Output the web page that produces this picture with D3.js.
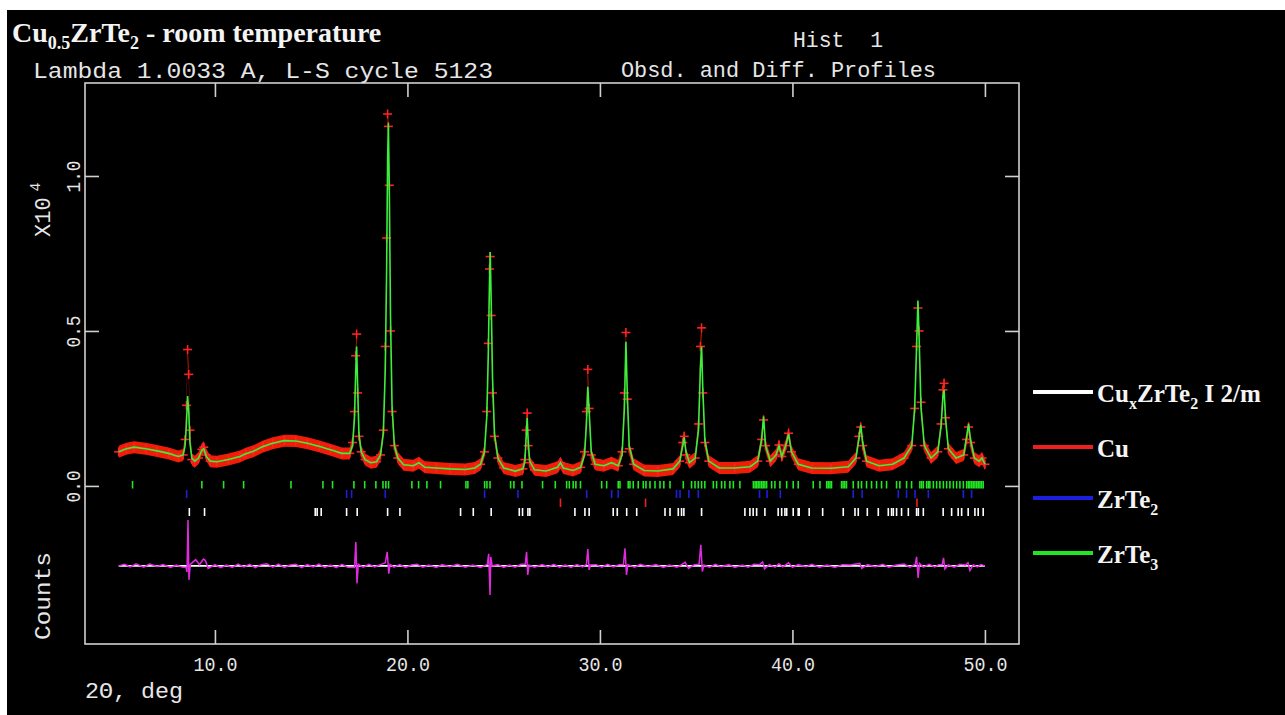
<!DOCTYPE html>
<html><head><meta charset="utf-8">
<script src="https://cdn.jsdelivr.net/npm/d3@7"></script>
<style>html,body{margin:0;padding:0;background:#fff;} svg{display:block}</style>
</head><body>
<script>
// ---------- DATA ----------
// 2-theta positions of the profile points (deg)
const twoTheta = [
  5.0,5.4,5.8,6.4,7.0,7.6,8.1,
  8.35,8.45,8.52,8.58,8.64,8.70,8.80,
  8.95,9.15,9.32,9.42,9.55,9.75,10.1,10.7,11.3,11.6,12.0,12.5,13.0,13.6,14.2,14.8,15.4,16.0,16.6,17.0,
  17.15,17.25,17.31,17.36,17.41,17.48,17.6,17.8,18.1,18.4,18.6,
  18.75,18.85,18.92,18.97,19.01,19.06,19.12,19.2,19.32,19.5,
  19.8,20.3,20.6,20.9,21.5,22.2,23.0,23.5,23.8,
  24.0,24.12,24.2,24.26,24.3,24.35,24.42,24.52,24.7,25.0,25.6,26.0,
  26.1,26.17,26.22,26.27,26.35,26.6,27.2,27.8,27.95,28.1,28.6,29.0,
  29.2,29.3,29.37,29.44,29.55,29.75,30.2,30.6,30.95,
  31.15,31.27,31.35,31.42,31.52,31.75,32.3,33.0,33.8,
  34.15,34.3,34.38,34.47,34.65,34.95,35.12,35.22,35.28,35.34,35.45,35.65,36.2,37.0,37.8,
  38.2,38.4,38.5,38.6,38.85,39.15,39.3,39.45,39.65,39.8,39.95,40.3,41.0,42.0,42.9,
  43.3,43.45,43.55,43.65,43.85,44.5,45.2,45.8,
  46.2,46.35,46.45,46.52,46.58,46.68,46.85,47.2,
  47.55,47.72,47.82,47.88,47.95,48.1,48.5,48.9,49.05,49.15,49.25,49.45,49.7,49.85,50.0
];
// calculated profile (counts x 10^4)
const calcCounts = [
  0.11,0.12,0.125,0.12,0.113,0.105,0.095,
  0.10,0.13,0.20,0.29,0.24,0.14,0.09,
  0.08,0.09,0.115,0.12,0.095,0.08,0.078,0.085,0.095,0.104,0.112,0.127,0.138,0.146,0.145,0.138,0.128,0.117,0.105,0.105,
  0.13,0.22,0.36,0.45,0.33,0.17,0.11,0.085,0.075,0.078,0.10,
  0.17,0.38,0.70,1.05,1.17,0.95,0.55,0.26,0.13,0.09,
  0.068,0.065,0.075,0.06,0.058,0.055,0.053,0.058,0.07,
  0.11,0.22,0.42,0.65,0.755,0.60,0.35,0.17,0.09,0.058,0.048,0.055,
  0.08,0.16,0.22,0.15,0.08,0.052,0.048,0.06,0.075,0.058,0.05,0.06,
  0.10,0.20,0.32,0.24,0.11,0.07,0.065,0.075,0.065,
  0.10,0.25,0.465,0.30,0.13,0.07,0.05,0.048,0.055,
  0.08,0.13,0.157,0.11,0.075,0.09,0.18,0.38,0.45,0.32,0.15,0.08,0.058,0.058,0.062,
  0.08,0.15,0.224,0.13,0.08,0.10,0.129,0.095,0.13,0.168,0.11,0.07,0.058,0.057,0.062,
  0.09,0.15,0.197,0.14,0.08,0.065,0.07,0.09,
  0.13,0.25,0.45,0.598,0.48,0.25,0.13,0.09,
  0.11,0.19,0.29,0.31,0.22,0.12,0.09,0.10,0.16,0.20,0.15,0.09,0.08,0.09,0.07
];
// observed profile (counts x 10^4)
const obsCounts = [
  0.11,0.12,0.125,0.12,0.113,0.105,0.095,
  0.10,0.15,0.26,0.44,0.36,0.18,0.085,
  0.078,0.09,0.118,0.125,0.10,0.08,0.078,0.085,0.095,0.104,0.112,0.127,0.138,0.146,0.145,0.138,0.128,0.117,0.105,0.105,
  0.14,0.24,0.42,0.49,0.30,0.16,0.11,0.085,0.075,0.078,0.10,
  0.18,0.45,0.80,1.20,1.16,0.97,0.50,0.24,0.13,0.09,
  0.068,0.065,0.075,0.06,0.058,0.055,0.053,0.058,0.07,
  0.11,0.24,0.46,0.70,0.74,0.55,0.30,0.16,0.09,0.058,0.048,0.055,
  0.085,0.18,0.235,0.13,0.075,0.052,0.048,0.06,0.075,0.058,0.05,0.06,
  0.11,0.24,0.376,0.25,0.10,0.07,0.065,0.075,0.065,
  0.11,0.30,0.495,0.28,0.12,0.07,0.05,0.048,0.055,
  0.08,0.14,0.16,0.10,0.075,0.09,0.20,0.45,0.51,0.30,0.14,0.08,0.058,0.058,0.062,
  0.08,0.15,0.213,0.13,0.08,0.10,0.132,0.095,0.13,0.17,0.11,0.07,0.058,0.057,0.062,
  0.09,0.16,0.19,0.13,0.08,0.065,0.07,0.09,
  0.13,0.25,0.45,0.574,0.50,0.27,0.13,0.09,
  0.11,0.20,0.31,0.331,0.22,0.12,0.09,0.10,0.15,0.19,0.14,0.09,0.08,0.09,0.07
];
// difference curve (obs - calc), counts x 10^4, drawn around an offset baseline
const diffTheta = [
  5.0,5.3,5.6,5.9,6.3,6.6,7.0,7.3,7.7,8.0,8.3,8.5,8.55,8.6,8.65,8.72,8.85,9.0,9.2,9.4,9.5,9.65,
  10.0,10.3,10.6,10.9,11.2,11.5,11.8,12.1,12.4,12.7,13.0,13.3,13.6,13.9,14.2,14.5,14.8,15.1,15.4,15.7,16.0,16.3,16.6,16.9,
  17.25,17.32,17.38,17.45,17.7,18.0,18.3,18.6,18.85,18.95,19.03,19.1,19.3,19.6,19.9,20.2,20.5,20.8,21.1,21.5,21.8,22.2,22.6,23.0,23.4,23.8,
  24.15,24.22,24.29,24.33,24.4,24.7,25.0,25.3,25.6,25.9,26.12,26.19,26.25,26.32,26.6,27.0,27.3,27.6,27.9,28.2,28.5,28.8,29.1,
  29.3,29.37,29.44,29.5,29.8,30.1,30.4,30.7,31.0,31.22,31.3,31.38,31.45,31.8,32.1,32.5,32.9,33.3,33.6,34.0,34.3,34.42,34.6,34.9,
  35.15,35.24,35.32,35.4,35.7,36.0,36.3,36.7,37.0,37.4,37.7,38.0,38.3,38.45,38.55,38.8,39.1,39.3,39.5,39.8,40.0,40.3,40.7,41.0,41.4,41.8,42.2,42.6,43.0,43.5,43.6,43.9,44.3,44.7,45.0,45.4,45.8,46.1,
  46.38,46.45,46.53,46.6,46.8,47.1,47.4,47.6,47.78,47.85,47.92,48.1,48.4,48.7,49.0,49.12,49.22,49.4,49.6,49.8,50.0
];
const diffCounts = [
  0.0,0.005,-0.003,0.007,-0.004,0.006,-0.002,0.004,-0.005,0.003,-0.004,-0.005,-0.02,0.148,-0.045,0.005,0.012,0.02,0.004,0.022,0.018,-0.008,
  0.004,-0.006,0.003,-0.005,0.006,-0.003,0.005,-0.006,0.004,0.007,-0.004,0.006,-0.005,0.003,0.005,-0.006,0.004,-0.003,0.006,-0.005,0.003,-0.006,0.005,-0.004,
  -0.005,0.077,-0.057,0.005,-0.004,0.005,-0.003,0.004,0.01,0.045,-0.025,0.005,-0.004,0.004,-0.005,0.003,0.005,-0.004,0.003,-0.005,0.004,-0.003,0.005,-0.004,0.003,-0.005,
  0.005,0.039,-0.094,0.029,0.0,0.004,-0.005,0.003,-0.004,0.005,0.005,0.045,-0.029,0.003,-0.004,0.004,-0.003,0.005,-0.004,0.003,-0.005,0.004,-0.003,
  0.005,0.054,-0.013,0.003,0.004,-0.004,0.005,-0.003,0.004,0.004,0.057,-0.029,0.004,-0.004,0.005,-0.003,0.004,-0.005,0.003,-0.004,0.006,0.012,-0.008,0.004,
  0.005,0.068,-0.018,0.003,-0.004,0.005,-0.003,0.004,-0.005,0.003,-0.004,0.005,0.004,0.013,-0.01,0.004,-0.004,0.007,-0.003,0.01,-0.005,0.004,-0.003,0.005,-0.004,0.003,-0.005,0.004,0.003,0.008,-0.008,0.004,-0.003,0.005,-0.004,0.003,0.006,-0.004,
  0.005,0.029,-0.039,0.008,-0.004,0.005,-0.003,0.004,0.004,0.026,-0.01,0.003,-0.004,0.005,0.003,0.01,-0.015,0.004,-0.003,0.004,0.0
];
const diffBaseline = -0.258;

// reflection positions (2-theta) per phase
const reflZrTe3 = [5.72,9.32,10.45,11.49,13.95,15.61,16.11,17.22,17.78,18.36,18.73,18.88,19.02,20.23,20.58,21.01,21.72,23.04,23.14,24.01,24.13,24.29,25.36,25.53,25.95,27.02,27.68,28.27,28.41,28.61,28.75,28.99,30.09,30.35,30.95,31.04,31.47,31.56,31.73,31.99,32.25,32.39,32.60,32.86,33.12,33.32,33.64,34.33,34.76,34.94,35.11,35.28,35.45,35.89,36.06,36.32,36.49,36.75,36.93,37.27,37.97,38.06,38.14,38.22,38.31,38.40,38.48,38.57,38.66,38.92,39.09,39.35,39.70,40.04,40.30,41.08,41.43,41.78,41.86,41.95,42.03,42.55,42.63,42.72,42.81,43.16,43.42,43.59,43.85,44.11,44.37,44.63,44.89,45.41,45.58,45.93,46.19,46.62,46.71,46.80,46.97,47.06,47.14,47.32,47.49,47.66,47.84,48.01,48.18,48.36,48.53,48.70,48.88,49.05,49.14,49.22,49.31,49.39,49.48,49.57,49.65,49.74,49.82,49.91];
const reflZrTe2 = [8.53,16.84,17.10,18.85,24.01,25.74,29.31,30.61,30.95,33.98,34.16,34.62,35.11,38.29,38.68,39.37,43.16,43.62,45.50,45.93,46.37,47.06,48.88,49.31];
const reflCu = [27.95,32.37,46.47];
const reflCuxZrTe2 = [8.67,9.46,15.21,15.31,15.52,16.84,17.39,18.97,19.61,22.76,23.42,24.35,25.81,25.98,26.26,26.36,28.70,29.22,29.44,30.69,30.90,31.39,31.91,33.38,33.64,34.07,34.24,34.36,35.28,37.53,37.79,37.96,38.14,38.57,39.26,39.44,39.61,39.70,40.04,40.30,40.35,40.87,41.57,42.64,43.25,43.42,43.89,44.46,44.98,45.15,45.24,45.41,45.67,46.02,46.45,46.54,46.80,47.83,48.27,48.61,48.79,49.13,49.48,49.65,49.91];

const xTickValues = [10, 20, 30, 40, 50];
const xTickLabels = ["10.0", "20.0", "30.0", "40.0", "50.0"];
const yTickValues = [0, 0.5, 1.0];
const yTickLabels = ["0.0", "0.5", "1.0"];

const legendNames = ["CuxZrTe2 I 2/m", "Cu", "ZrTe2", "ZrTe3"];
const phaseColors = ["#ffffff", "#ee1f1f", "#1e1ee0", "#22e622"];

// ---------- DRAWING ----------
const W = 1285, H = 715;
const svg = d3.select("body").append("svg").attr("width", W).attr("height", H);
svg.append("rect").attr("width", W).attr("height", H).attr("fill", "#fff");
svg.append("rect").attr("x", 7).attr("y", 10).attr("width", W - 7).attr("height", H - 10).attr("fill", "#000");

const frame = {left: 85, right: 1019, top: 83, bottom: 644};
const x = d3.scaleLinear().domain([3.25, 51.77]).range([frame.left, frame.right]);
const y = d3.scaleLinear().domain([-0.51, 1.30]).range([frame.bottom, frame.top]);

const mono = "'Liberation Mono','DejaVu Sans Mono',monospace";
const serif = "'Liberation Serif','DejaVu Serif',serif";
const fg = "#e6e6e6";

// frame
svg.append("rect").attr("x", frame.left).attr("y", frame.top)
  .attr("width", frame.right - frame.left).attr("height", frame.bottom - frame.top)
  .attr("fill", "none").attr("stroke", "#d0d0d0").attr("stroke-width", 1.6);

function styleAxis(g) {
  g.select(".domain").remove();
  g.selectAll(".tick line").attr("stroke", "#d0d0d0").attr("stroke-width", 1.6);
}
// bottom axis with labels
const gx = svg.append("g").attr("transform", `translate(0,${frame.bottom})`)
  .call(d3.axisBottom(x).tickValues(xTickValues).tickSizeInner(-14).tickSizeOuter(0)
    .tickFormat((d, i) => xTickLabels[i]));
styleAxis(gx);
gx.selectAll(".tick text").attr("y", 27).attr("dy", 0)
  .attr("fill", fg).attr("font-family", mono).attr("font-size", 21)
  .attr("textLength", 44).attr("lengthAdjust", "spacingAndGlyphs");
// top axis, ticks only
const gt = svg.append("g").attr("transform", `translate(0,${frame.top})`)
  .call(d3.axisTop(x).tickValues(xTickValues).tickSizeInner(-14).tickSizeOuter(0).tickFormat(""));
styleAxis(gt);
// left axis with rotated labels
const gy = svg.append("g").attr("transform", `translate(${frame.left},0)`)
  .call(d3.axisLeft(y).tickValues(yTickValues).tickSizeInner(-14).tickSizeOuter(0)
    .tickFormat((d, i) => yTickLabels[i]));
styleAxis(gy);
gy.selectAll(".tick text").attr("x", 0).attr("dy", 0)
  .attr("transform", "translate(-5,0) rotate(-90)")
  .attr("text-anchor", "middle")
  .attr("fill", fg).attr("font-family", mono).attr("font-size", 21)
  .attr("textLength", 32).attr("lengthAdjust", "spacingAndGlyphs");
// right axis ticks only
const gr = svg.append("g").attr("transform", `translate(${frame.right},0)`)
  .call(d3.axisRight(y).tickValues(yTickValues).tickSizeInner(-14).tickSizeOuter(0).tickFormat(""));
styleAxis(gr);

// titles
const t1 = svg.append("text").attr("x", 12).attr("y", 42).attr("fill", "#f4f4f4")
  .attr("font-family", serif).attr("font-weight", "bold").attr("font-size", 28);
t1.append("tspan").text("Cu");
t1.append("tspan").attr("dy", 7).attr("font-size", 18).text("0.5");
t1.append("tspan").attr("dy", -7).text("ZrTe");
t1.append("tspan").attr("dy", 7).attr("font-size", 18).text("2");
t1.append("tspan").attr("dy", -7).text(" - room temperature");

function monoText(str, x0, y0, len) {
  svg.append("text").attr("x", x0).attr("y", y0).attr("fill", fg)
    .attr("font-family", mono).attr("font-size", 22).attr("xml:space", "preserve")
    .style("white-space", "pre")
    .attr("textLength", len).attr("lengthAdjust", "spacingAndGlyphs").text(str);
}
monoText("Lambda 1.0033 A, L-S cycle 5123", 33, 78, 460);
monoText("Hist  1", 793, 47, 90);
monoText("Obsd. and Diff. Profiles", 621, 77, 315);

// y-axis titles (rotated)
const yl = svg.append("text").attr("transform", "translate(50,237) rotate(-90)")
  .attr("fill", fg).attr("font-family", mono).attr("font-size", 22);
yl.append("tspan").text("X10");
yl.append("tspan").attr("dx", 6).attr("dy", -10).attr("font-size", 15).text("4");
svg.append("text").attr("transform", "translate(50,596) rotate(-90)")
  .attr("text-anchor", "middle").attr("fill", fg).attr("font-family", mono).attr("font-size", 22)
  .attr("textLength", 88).attr("lengthAdjust", "spacingAndGlyphs").text("Counts");
svg.append("text").attr("x", 85).attr("y", 698).attr("fill", fg)
  .attr("font-family", mono).attr("font-size", 22)
  .attr("textLength", 98).attr("lengthAdjust", "spacingAndGlyphs").text("2Θ, deg");

// profile data
const prof = twoTheta.map((t, i) => ({t, c: calcCounts[i], o: obsCounts[i]}));

// observed: red band + crosses
svg.append("path").datum(prof)
  .attr("d", d3.area().x(d => x(d.t)).y0(d => y(d.o) + 6).y1(d => y(d.o) - 6))
  .attr("fill", "#ee1d08");
const plus = svg.append("g").attr("stroke", "#ff2222").attr("stroke-width", 1.6);
prof.forEach(d => {
  const px = x(d.t), py = y(d.o);
  plus.append("line").attr("x1", px - 4.5).attr("x2", px + 4.5).attr("y1", py).attr("y2", py);
  plus.append("line").attr("x1", px).attr("x2", px).attr("y1", py - 4.5).attr("y2", py + 4.5);
});
// calculated line
svg.append("path").datum(prof)
  .attr("d", d3.line().x(d => x(d.t)).y(d => y(d.c)))
  .attr("fill", "none").attr("stroke", "#3af03a").attr("stroke-width", 1.6);

// reflection ticks
const tickRows = [
  {data: reflZrTe3, color: phaseColors[3], y0: 481, y1: 488.5},
  {data: reflZrTe2, color: phaseColors[2], y0: 490, y1: 498},
  {data: reflCu, color: phaseColors[1], y0: 498.5, y1: 507},
  {data: reflCuxZrTe2, color: phaseColors[0], y0: 508, y1: 516}
];
tickRows.forEach(r => {
  svg.append("g").selectAll("line").data(r.data).join("line")
    .attr("x1", d => x(d)).attr("x2", d => x(d))
    .attr("y1", r.y0).attr("y2", r.y1)
    .attr("stroke", r.color).attr("stroke-width", 1.6);
});

// difference curve
svg.append("line").attr("x1", x(5)).attr("x2", x(50))
  .attr("y1", y(diffBaseline)).attr("y2", y(diffBaseline))
  .attr("stroke", "#ffffff").attr("stroke-width", 1.6);
svg.append("path").datum(diffTheta.map((t, i) => [t, diffCounts[i]]))
  .attr("d", d3.line().x(d => x(d[0])).y(d => y(diffBaseline + d[1])))
  .attr("fill", "none").attr("stroke", "#e02ae0").attr("stroke-width", 1.5);

// legend
const legY = [392, 447, 498, 553];
const legend = svg.append("g");
legendNames.forEach((name, i) => {
  legend.append("line").attr("x1", 1033).attr("x2", 1093).attr("y1", legY[i]).attr("y2", legY[i])
    .attr("stroke", phaseColors[i]).attr("stroke-width", 4);
  const tx = legend.append("text").attr("x", 1097).attr("y", legY[i] + 10)
    .attr("fill", "#f4f4f4").attr("font-family", serif).attr("font-weight", "bold").attr("font-size", 25);
  if (i === 0) {
    tx.append("tspan").text("Cu");
    tx.append("tspan").attr("dy", 7).attr("font-size", 16).text("x");
    tx.append("tspan").attr("dy", -7).text("ZrTe");
    tx.append("tspan").attr("dy", 7).attr("font-size", 16).text("2");
    tx.append("tspan").attr("dy", -7).text(" I 2/m");
  } else if (i === 1) {
    tx.text("Cu");
  } else {
    tx.append("tspan").text("ZrTe");
    tx.append("tspan").attr("dy", 7).attr("font-size", 16).text(i === 2 ? "2" : "3");
  }
});
</script>
</body></html>
